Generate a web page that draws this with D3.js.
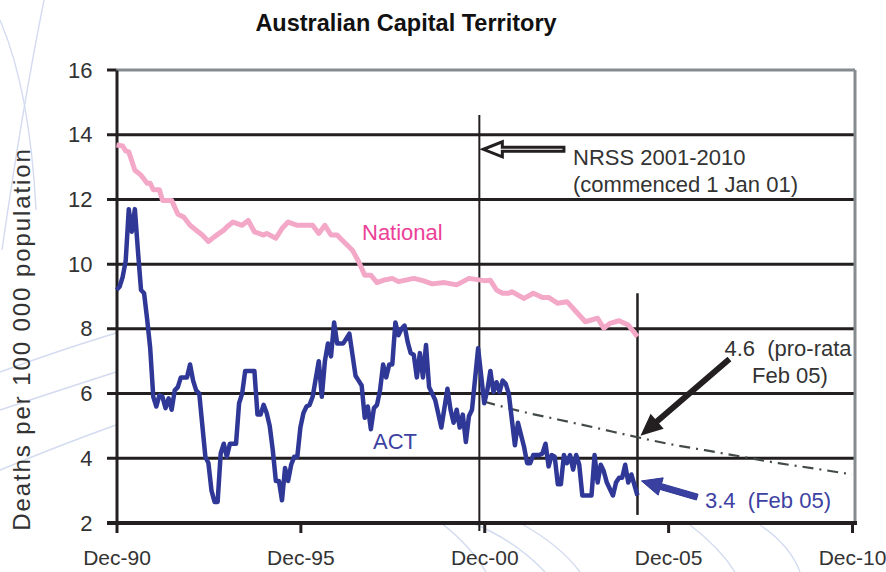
<!DOCTYPE html>
<html>
<head>
<meta charset="utf-8">
<script src="https://cdn.jsdelivr.net/npm/d3@7"></script>
<style>
  body { margin: 0; background: #fff; }
  svg { display: block; font-family: "Liberation Sans", Arial, sans-serif; }
</style>
</head>
<body>
<svg id="chart" width="886" height="572"></svg>
<script>
// x values are months counted from Dec-90
const xTickMonths = [0, 60, 120, 180, 240];
const xTickLabels = ["Dec-90", "Dec-95", "Dec-00", "Dec-05", "Dec-10"];
const yTicks = [2, 4, 6, 8, 10, 12, 14, 16];

// ACT road deaths per 100 000 (12 month rolling), [month, value]
const actData = [
  [0,9.2],[1,9.3],[2,9.6],[3,10.1],[4,11.7],[5,11.0],[6,11.7],[7,10.4],[8,9.2],[9,9.1],
  [10,8.3],[11,7.4],[12,5.9],[13,5.6],[14,5.95],[15,5.9],[16,5.55],[17,5.85],[18,5.5],[19,6.1],
  [20,6.2],[21,6.5],[23,6.5],[24,6.9],[25,6.4],[26,6.1],[27,6.0],[29,4.05],[30,3.85],[31,3.0],
  [32,2.65],[33,2.65],[34,4.15],[35,4.45],[36,4.05],[37,4.45],[39,4.45],[40,5.7],[41,6.0],[42,6.7],
  [45,6.7],[46,5.35],[47,5.35],[48,5.65],[49,5.4],[50,5.0],[51,4.25],[52,3.3],[53,3.3],[54,2.7],
  [55,3.7],[56,3.3],[57,3.8],[58,4.05],[59,4.05],[60,4.95],[61,5.4],[62,5.6],[63,5.65],[64,5.9],
  [66,7.0],[67,5.9],[68,7.0],[69,7.55],[70,7.15],[71,8.2],[72,7.55],[74,7.55],[76,7.85],[78,6.55],
  [79,6.4],[80,6.25],[81,5.25],[82,5.6],[83,4.9],[84,5.55],[85,5.65],[86,6.1],[87,6.9],[88,6.5],
  [89,6.9],[90,6.9],[91,8.2],[92,7.8],[93,8.0],[94,8.1],[95,7.6],[96,7.25],[97,7.2],[98,6.5],
  [99,7.25],[100,6.5],[101,7.5],[102,6.2],[104,5.8],[106,4.95],[108,6.15],[109,5.5],[110,5.1],[111,5.5],
  [112,4.95],[113,5.35],[114,4.5],[115,5.3],[116,5.5],[118,7.4],[120,5.7],[121,6.1],[122,6.7],[123,6.05],
  [124,6.35],[125,6.05],[126,6.4],[127,6.3],[128,6.0],[130,4.4],[131,5.1],[133,4.35],[134,3.85],[135,3.85],
  [136,4.1],[138,4.1],[139,4.15],[140,4.45],[141,3.75],[142,4.1],[143,4.05],[144,3.2],[145,3.2],[146,4.1],
  [147,3.85],[148,4.1],[149,3.65],[150,4.1],[151,3.8],[152,2.85],[155,2.85],[156,4.1],[157,3.25],[158,3.8],
  [159,3.6],[160,3.25],[162,2.85],[163,3.25],[164,3.4],[165,3.4],[166,3.8],[167,3.25],[168,3.5],[170,2.85]
];

// National, [month, value]
const natData = [
  [0,13.68],[2,13.65],[3,13.5],[4,13.47],[6,12.9],[8,12.75],[10,12.5],[11,12.5],[12,12.3],[14,12.3],
  [15,11.97],[18,11.97],[20,11.55],[22,11.45],[24,11.2],[26,11.05],[28,10.9],[30,10.7],[32,10.85],[35,11.05],
  [36,11.15],[38,11.3],[41,11.2],[43,11.35],[45,11.0],[48,10.9],[49,10.95],[52,10.8],[54,11.1],[56,11.3],
  [59,11.2],[64,11.2],[66,10.95],[68,11.2],[70,10.9],[72,10.9],[73,10.8],[77,10.43],[79,10.08],[81,9.66],
  [83,9.66],[85,9.43],[87,9.5],[90,9.56],[92,9.46],[97,9.56],[100,9.49],[103,9.39],[107,9.43],[111,9.36],
  [115,9.56],[120,9.49],[122,9.5],[124,9.2],[126,9.1],[128,9.1],[129,9.15],[133,8.94],[136,9.1],[139,8.97],
  [141,8.97],[144,8.79],[147,8.84],[150,8.53],[153,8.22],[157,8.33],[159,8.02],[161,8.17],[164,8.25],[167,8.12],
  [170,7.76]
];

// NRSS target path (dashed)
const trendData = [
  [120,5.75],[132,5.45],[144,5.2],[156,4.95],[170,4.65],[180,4.45],
  [192,4.25],[204,4.05],[216,3.85],[228,3.68],[240,3.5]
];

const nrssMonth = 118.4;  // NRSS start marker
const febMonth = 170;     // Feb 05

const svg = d3.select("#chart");

const x = d3.scaleLinear().domain([0, 240]).range([116.5, 852]);
const y = d3.scaleLinear().domain([2, 16]).range([523, 70]);

// faint background swirls
const deco = svg.append("g")
  .attr("fill", "none")
  .attr("stroke", "#d3dbf0")
  .attr("stroke-width", 1.4);
[
  "M44,0 Q22,110 2,250",
  "M0,20 Q30,90 36,210",
  "M0,372 Q60,350 116,333",
  "M0,410 Q60,390 116,372",
  "M0,470 Q60,445 116,425",
  "M440,522 Q470,545 486,572",
  "M470,522 Q515,540 545,572",
  "M520,523 Q560,545 580,572",
  "M690,525 Q720,548 735,572",
  "M760,525 Q790,545 800,572"
].forEach(d => deco.append("path").attr("d", d));

// grid lines with little tick stubs on the left
svg.append("g")
  .selectAll("line")
  .data(yTicks.filter(t => t > 2 && t < 16))
  .enter()
  .append("line")
    .attr("x1", 107)
    .attr("x2", x(240) + 3)
    .attr("y1", d => y(d))
    .attr("y2", d => y(d))
    .attr("stroke", "#231f20")
    .attr("stroke-width", 3);

// top and right frame (grey)
svg.append("line")
  .attr("x1", x(0)).attr("x2", x(240) + 3)
  .attr("y1", y(16)).attr("y2", y(16))
  .attr("stroke", "#868b90").attr("stroke-width", 3);
svg.append("line")
  .attr("x1", 107).attr("x2", x(0))
  .attr("y1", y(16)).attr("y2", y(16))
  .attr("stroke", "#231f20").attr("stroke-width", 3);
svg.append("line")
  .attr("x1", x(240) + 3).attr("x2", x(240) + 3)
  .attr("y1", y(16)).attr("y2", y(2))
  .attr("stroke", "#868b90").attr("stroke-width", 3);

// y axis
const yAxis = d3.axisLeft(y).tickValues(yTicks).tickSize(0).tickPadding(24);
const gY = svg.append("g")
  .attr("transform", `translate(${x(0)},0)`)
  .call(yAxis);
gY.select(".domain").attr("stroke", "#231f20").attr("stroke-width", 3);
gY.selectAll("text")
  .attr("font-size", 22)
  .attr("font-family", "Liberation Sans, Arial, sans-serif")
  .attr("fill", "#333");

// x axis
const xAxis = d3.axisBottom(x)
  .tickValues(xTickMonths)
  .tickFormat((d, i) => xTickLabels[i])
  .tickSize(10)
  .tickSizeOuter(0)
  .tickPadding(17);
const gX = svg.append("g")
  .attr("transform", `translate(0,${y(2)})`)
  .call(xAxis);
gX.select(".domain")
  .attr("d", `M107,0H${x(240) + 5}`)
  .attr("stroke", "#231f20").attr("stroke-width", 4);
gX.selectAll(".tick line").attr("stroke", "#231f20").attr("stroke-width", 3);
gX.selectAll("text")
  .attr("font-size", 21)
  .attr("font-family", "Liberation Sans, Arial, sans-serif")
  .attr("fill", "#333");

// marker lines
svg.append("line")
  .attr("x1", x(nrssMonth)).attr("x2", x(nrssMonth))
  .attr("y1", 115).attr("y2", y(2) + 8)
  .attr("stroke", "#231f20").attr("stroke-width", 2);
svg.append("line")
  .attr("x1", x(febMonth)).attr("x2", x(febMonth))
  .attr("y1", y(9.1)).attr("y2", y(2.25))
  .attr("stroke", "#231f20").attr("stroke-width", 2.5);

const line = d3.line()
  .x(d => x(d[0]))
  .y(d => y(d[1]));

// trend
svg.append("path")
  .datum(trendData)
  .attr("d", line.curve(d3.curveMonotoneX))
  .attr("fill", "none")
  .attr("stroke", "#434b4a")
  .attr("stroke-width", 2.2)
  .attr("stroke-dasharray", "11,6,2,6");

line.curve(d3.curveLinear);

// National
svg.append("path")
  .datum(natData)
  .attr("d", line)
  .attr("fill", "none")
  .attr("stroke", "#f3a8c8")
  .attr("stroke-width", 5)
  .attr("stroke-linejoin", "round");

// ACT
svg.append("path")
  .datum(actData)
  .attr("d", line)
  .attr("fill", "none")
  .attr("stroke", "#2f3896")
  .attr("stroke-width", 4.5)
  .attr("stroke-linejoin", "round");

// arrow polygon from tail to head
function arrow(tail, head, shaft, headLen, headHalf) {
  const dx = head[0] - tail[0], dy = head[1] - tail[1];
  const len = Math.sqrt(dx * dx + dy * dy);
  const ux = dx / len, uy = dy / len, nx = -uy, ny = ux;
  const bx = head[0] - ux * headLen, by = head[1] - uy * headLen;
  const pts = [
    [tail[0] + nx * shaft, tail[1] + ny * shaft],
    [bx + nx * shaft, by + ny * shaft],
    [bx + nx * headHalf, by + ny * headHalf],
    head,
    [bx - nx * headHalf, by - ny * headHalf],
    [bx - nx * shaft, by - ny * shaft],
    [tail[0] - nx * shaft, tail[1] - ny * shaft]
  ];
  return "M" + pts.map(p => p.join(",")).join("L") + "Z";
}

svg.append("path")
  .attr("d", arrow([x(146), y(13.55)], [x(nrssMonth) + 4, y(13.55)], 2, 19, 7.5))
  .attr("fill", "#fff").attr("stroke", "#231f20").attr("stroke-width", 3)
  .attr("stroke-linejoin", "miter");

svg.append("path")
  .attr("d", arrow([x(200), y(7.07)], [x(febMonth) + 3, y(4.7)], 3, 22, 10))
  .attr("fill", "#231f20");

svg.append("path")
  .attr("d", arrow([x(189.5), y(2.8)], [x(febMonth) + 4, y(3.3)], 3, 20, 9))
  .attr("fill", "#3a40a0").attr("stroke", "#2f3896").attr("stroke-width", 1);

// labels
const txt = (tx, ty, s, col, anchor) => svg.append("text")
  .attr("x", tx).attr("y", ty)
  .attr("font-size", 22)
  .attr("fill", col)
  .attr("text-anchor", anchor || "start")
  .style("white-space", "pre")
  .text(s);

txt(573, 165, "NRSS 2001-2010", "#333");
txt(573, 192, "(commenced 1 Jan 01)", "#333");
txt(362, 240, "National", "#ec4197");
txt(373, 449, "ACT", "#3d42a2");
txt(788, 356, "4.6  (pro-rata", "#333", "middle");
txt(790, 383, "Feb 05)", "#333", "middle");
txt(705, 508, "3.4  (Feb 05)", "#3d42a2");

svg.append("text")
  .attr("x", 406).attr("y", 31)
  .attr("text-anchor", "middle")
  .attr("font-size", 23.5)
  .attr("font-weight", "bold")
  .attr("fill", "#111")
  .text("Australian Capital Territory");

svg.append("text")
  .attr("transform", "translate(30,339) rotate(-90)")
  .attr("text-anchor", "middle")
  .attr("font-size", 24)
  .attr("letter-spacing", 1.9)
  .attr("fill", "#333")
  .text("Deaths per 100 000 population");
</script>
</body>
</html>
